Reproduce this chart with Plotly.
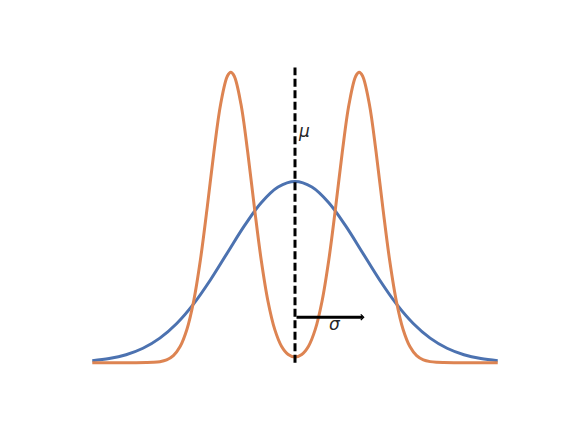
import plotly.graph_objects as go

# ---- data ----
blue_x = [-3.0, -2.75, -2.5, -2.25, -2.0, -1.75, -1.5, -1.25, -1.0, -0.75, -0.5, -0.25, 0.0,
          0.25, 0.5, 0.75, 1.0, 1.25, 1.5, 1.75, 2.0, 2.25, 2.5, 2.75, 3.0]
blue_y = [0.0044, 0.0091, 0.0175, 0.0317, 0.0540, 0.0863, 0.1295, 0.1826, 0.2420, 0.3011, 0.3521, 0.3867, 0.3989,
          0.3867, 0.3521, 0.3011, 0.2420, 0.1826, 0.1295, 0.0863, 0.0540, 0.0317, 0.0175, 0.0091, 0.0044]

orange_x = [-3.0, -2.8, -2.6, -2.4, -2.2, -2.1, -2.0, -1.9, -1.8, -1.7, -1.6, -1.5, -1.4, -1.3, -1.2, -1.1,
            -1.0, -0.95, -0.9, -0.8, -0.7, -0.6, -0.5, -0.4, -0.3, -0.2, -0.1, 0.0,
            0.1, 0.2, 0.3, 0.4, 0.5, 0.6, 0.7, 0.8, 0.9, 0.95, 1.0,
            1.1, 1.2, 1.3, 1.4, 1.5, 1.6, 1.7, 1.8, 1.9, 2.0, 2.1, 2.2, 2.4, 2.6, 2.8, 3.0]
orange_y = [0.0, 0.0, 0.0, 0.0, 0.0002, 0.0007, 0.0022, 0.0062, 0.0156, 0.0355, 0.0730, 0.1352, 0.2260, 0.3408, 0.4637, 0.5695,
            0.6311, 0.6393, 0.6311, 0.5695, 0.4637, 0.3408, 0.2260, 0.1352, 0.0732, 0.0363, 0.0179, 0.0124,
            0.0179, 0.0363, 0.0732, 0.1352, 0.2260, 0.3408, 0.4637, 0.5695, 0.6311, 0.6393, 0.6311,
            0.5695, 0.4637, 0.3408, 0.2260, 0.1352, 0.0730, 0.0355, 0.0156, 0.0062, 0.0022, 0.0007, 0.0002, 0.0, 0.0, 0.0, 0.0]

mu = 0.0
mu_line_y = [0.0, 0.65]
sigma = 1.0
sigma_arrow_y = 0.1
mu_label = "<i>μ</i>"
sigma_label = "<i>σ</i>"

BLUE = "#4C72B0"
ORANGE = "#DD8452"

fig = go.Figure()
fig.add_trace(go.Scatter(x=blue_x, y=blue_y, mode="lines",
                         line=dict(color=BLUE, width=3, shape="spline"), hoverinfo="skip"))
fig.add_trace(go.Scatter(x=orange_x, y=orange_y, mode="lines",
                         line=dict(color=ORANGE, width=3, shape="spline"), hoverinfo="skip"))
fig.add_trace(go.Scatter(x=[mu, mu], y=mu_line_y, mode="lines",
                         line=dict(color="black", width=3, dash="8px,3.5px"), hoverinfo="skip"))

# sigma arrow
fig.add_annotation(x=mu + sigma * 1.03, y=sigma_arrow_y, ax=mu, ay=sigma_arrow_y,
                   xref="x", yref="y", axref="x", ayref="y", text="",
                   showarrow=True, arrowhead=4, arrowsize=0.4, arrowwidth=2.8,
                   arrowcolor="black", standoff=0, startstandoff=0)
fig.add_annotation(x=0.138, y=0.51, xref="x", yref="y", text=mu_label, showarrow=False,
                   font=dict(family="DejaVu Sans", size=17, color="#262626"),
                   xanchor="center", yanchor="middle")
fig.add_annotation(x=0.59, y=0.086, xref="x", yref="y", text=sigma_label, showarrow=False,
                   font=dict(family="DejaVu Sans", size=17, color="#262626"),
                   xanchor="center", yanchor="middle")

# page body has an 8px margin, so the plot area is shifted back by 8px
fig.update_layout(
    width=576, height=432,
    margin=dict(l=64, r=66, t=44, b=56),
    paper_bgcolor="white", plot_bgcolor="white",
    showlegend=False,
    xaxis=dict(range=[-3.3, 3.3], visible=False),
    yaxis=dict(range=[-0.047, 0.684], visible=False),
)
fig.write_html("out.html")
